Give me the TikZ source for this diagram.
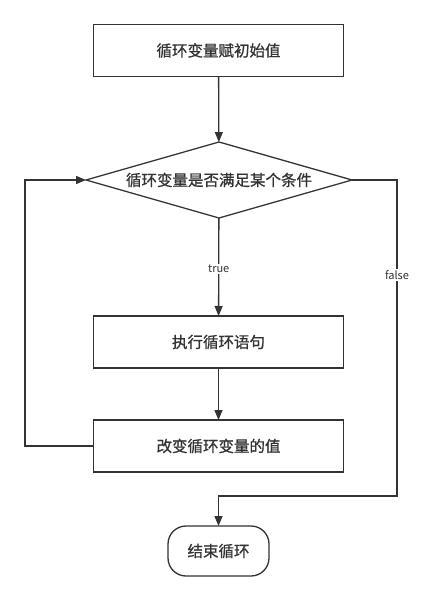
\documentclass[tikz,border=0pt]{standalone}
\usepackage{fontspec}
\setmainfont{Noto Sans CJK SC}
\newfontfamily\boxfont{Noto Sans CJK SC}[FakeBold=0.8]
\usetikzlibrary{arrows.meta,shapes.geometric}
\definecolor{ink}{HTML}{333333}
\begin{document}
\begin{tikzpicture}[x=1pt,y=-1pt,
  every node/.style={inner sep=0pt,outer sep=0pt,text=ink},
  proc/.style={draw=ink,line width=1.3pt,fill=white,minimum width=250pt,minimum height=52pt,font=\boxfont\fontsize{15.5}{18}\selectfont},
  decide/.style={draw=ink,line width=1.3pt,fill=white,shape=diamond,aspect=3.5,minimum width=266pt,minimum height=76pt,font=\boxfont\fontsize{15.5}{18}\selectfont},
  term/.style={draw=ink,line width=1.3pt,fill=white,rounded corners=18pt,minimum width=101pt,minimum height=50pt,font=\boxfont\fontsize{15.5}{18}\selectfont},
  flow/.style={draw=ink,line width=1.3pt,-{Triangle[length=10pt,width=8pt]}},
  lbl/.style={fill=white,inner sep=1.5pt,font=\fontsize{11}{13}\selectfont}]
\useasboundingbox (0,0) rectangle (425,601);
\node[proc] (init) at (218.5,50.5) {循环变量赋初始值};
\node[decide] (cond) at (219,180) {循环变量是否满足某个条件};
\node[proc] (body) at (218.5,342) {执行循环语句};
\node[proc] (upd) at (218.5,446) {改变循环变量的值};
\node[term] (end) at (218.5,551) {结束循环};
\coordinate (lb) at (25,446);
\coordinate (lt) at (25,180);
\coordinate (rt) at (397,180);
\coordinate (rb) at (397,496);
\coordinate (mb) at (218.5,496);
\draw[flow] (init) -- (cond);
\draw[flow] (cond) -- node[lbl,pos=0.52] {true} (body);
\draw[flow] (body) -- (upd);
\draw[flow] (upd.west) -- (lb) -- (lt) -- (cond.west);
\draw[flow] (cond.east) -- (rt) -- node[lbl,pos=0.3] {false} (rb) -- (mb) -- (end.north);
\end{tikzpicture}
\end{document}
